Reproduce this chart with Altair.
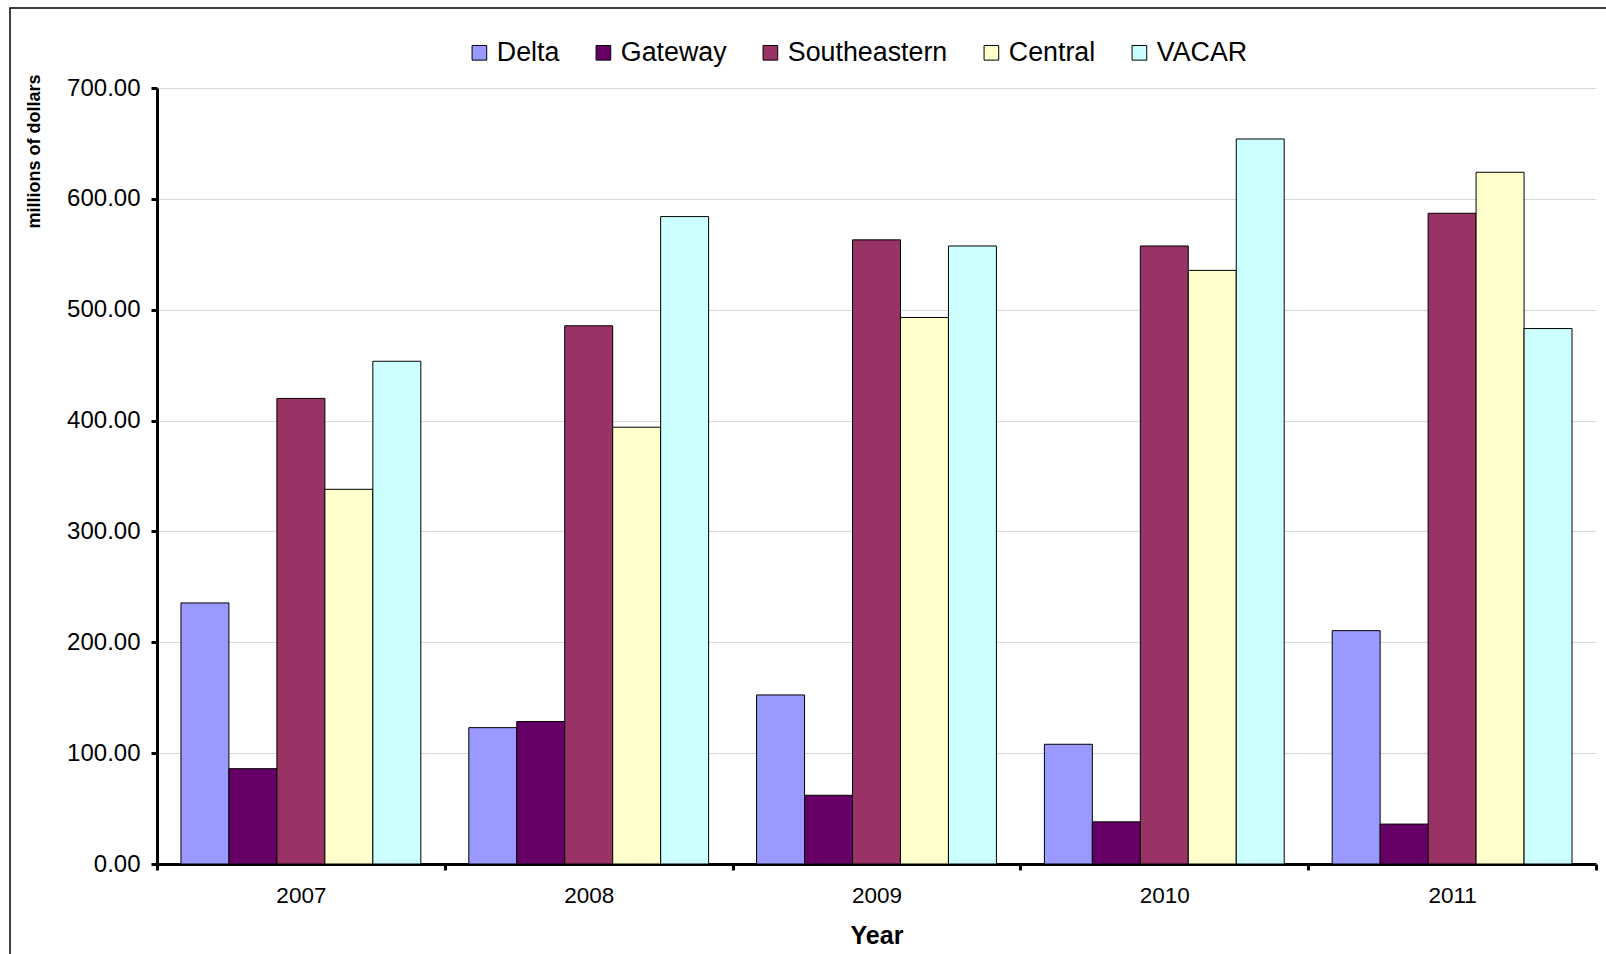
import altair as alt
import pandas as pd

years = ["2007", "2008", "2009", "2010", "2011"]
regions = ["Delta", "Gateway", "Southeastern", "Central", "VACAR"]
delta = [235.5, 123.0, 152.5, 108.0, 210.5]
gateway = [86.0, 128.5, 62.0, 38.0, 36.0]
southeastern = [420.0, 485.5, 563.0, 557.5, 587.0]
central = [338.0, 394.0, 493.0, 535.5, 624.0]
vacar = [453.5, 584.0, 557.5, 654.0, 483.0]
colors = ["#9999FF", "#660066", "#993366", "#FFFFCC", "#CCFFFF"]

series = [delta, gateway, southeastern, central, vacar]
rows = []
for r, vals in zip(regions, series):
    for y, v in zip(years, vals):
        rows.append({"Year": y, "Region": r, "Value": v})
df = pd.DataFrame(rows)

FONT = "Liberation Sans"

bars = alt.Chart(df).mark_bar(stroke="black", strokeWidth=1).encode(
    x=alt.X("Year:N", sort=years,
            scale=alt.Scale(paddingInner=0, paddingOuter=0),
            axis=alt.Axis(title="Year", tickBand="extent", labelAngle=0,
                          domainColor="black", domainWidth=3,
                          tickColor="black", tickWidth=3, tickSize=6,
                          labelFontSize=22.5, labelFont=FONT, labelColor="black",
                          labelPadding=14,
                          titleFontSize=25, titleFont=FONT, titleFontWeight="bold",
                          titleColor="black", titleY=71, titleBaseline="middle")),
    xOffset=alt.XOffset("Region:N", sort=regions,
                        scale=alt.Scale(paddingInner=0, paddingOuter=0.5)),
    y=alt.Y("Value:Q",
            scale=alt.Scale(domain=[0, 700], nice=False),
            axis=alt.Axis(title="millions of dollars", format=".2f",
                          values=[0, 100, 200, 300, 400, 500, 600, 700],
                          domainColor="black", domainWidth=3,
                          tickColor="black", tickWidth=3, tickSize=6,
                          gridColor="#d9d9d9", gridWidth=1,
                          labelFontSize=24, labelFont=FONT, labelColor="black",
                          labelPadding=11,
                          titleFontSize=18, titleFont=FONT, titleFontWeight="bold",
                          titleColor="black", titleX=-123, titleY=63,
                          titleAlign="center", titleBaseline="middle",
                          titleAngle=270)),
    color=alt.Color("Region:N", sort=regions,
                    scale=alt.Scale(domain=regions, range=colors),
                    legend=alt.Legend(title=None, orient="none", direction="horizontal",
                                      legendX=309, legendY=-49,
                                      symbolType="square", symbolSize=215,
                                      symbolStrokeColor="black", symbolStrokeWidth=1,
                                      symbolOpacity=1,
                                      labelFontSize=26.8, labelFont=FONT, labelColor="black",
                                      columnPadding=30, labelOffset=4, padding=0)),
)

frame = alt.Chart(pd.DataFrame({"a": [0]})).mark_rect(
    fill=None, stroke="black", strokeWidth=1.5
).encode(
    x=alt.value(-147), x2=alt.value(1480),
    y=alt.value(-80), y2=alt.value(900),
)

chart = alt.layer(frame, bars).properties(
    width=1439, height=776,
    autosize=alt.AutoSizeParams(type="none"),
    padding={"left": 157, "top": 88, "right": 10, "bottom": 90},
    background="white",
).configure_view(stroke=None)

chart.save("out.html", embed_options={"renderer": "svg", "actions": False})
